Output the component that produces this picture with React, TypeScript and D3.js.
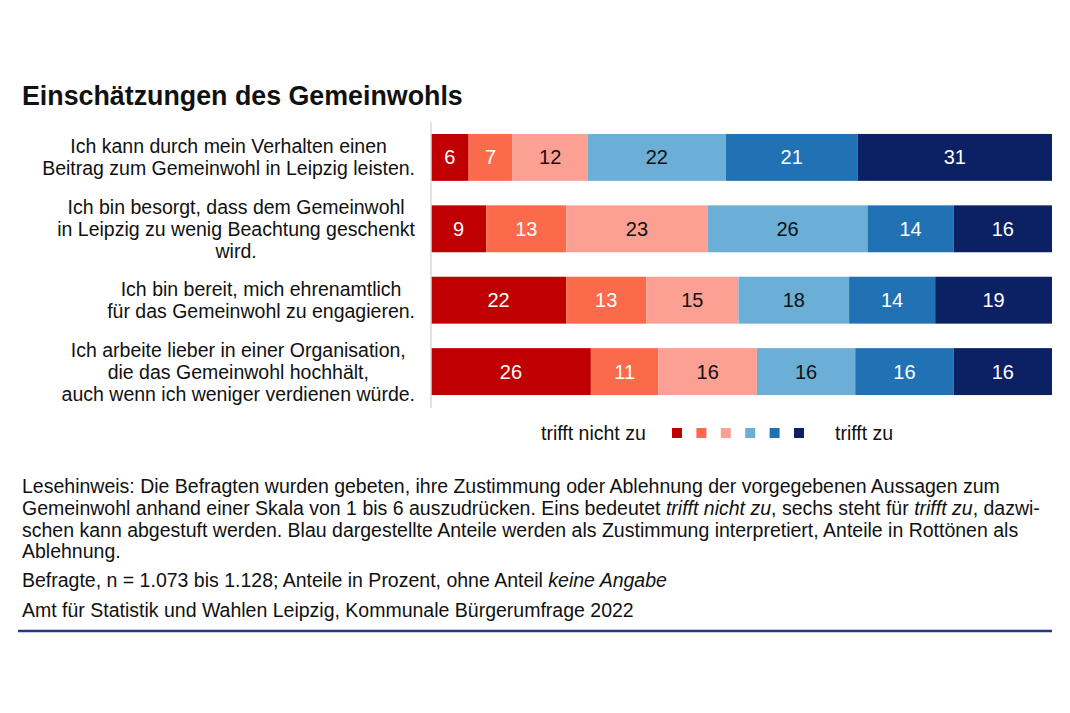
import React from 'react';
import * as d3 from 'd3';

const categories = [
  'Ich kann durch mein Verhalten einen|Beitrag zum Gemeinwohl in Leipzig leisten.',
  'Ich bin besorgt, dass dem Gemeinwohl|in Leipzig zu wenig Beachtung geschenkt|wird.',
  'Ich bin bereit, mich ehrenamtlich|für das Gemeinwohl zu engagieren.',
  'Ich arbeite lieber in einer Organisation,|die das Gemeinwohl hochhält,|auch wenn ich weniger verdienen würde.',
];

const levels = ['1', '2', '3', '4', '5', '6'];

const values = [
  [6, 7, 12, 22, 21, 31],
  [9, 13, 23, 26, 14, 16],
  [22, 13, 15, 18, 14, 19],
  [26, 11, 16, 16, 16, 16],
];

const colors = ['#c00000', '#fb6a4a', '#fca093', '#6baed6', '#2171b5', '#0b2164'];
const textColors = ['#fff', '#fff', '#111', '#111', '#fff', '#fff'];

const title = 'Einschätzungen des Gemeinwohls';
const legendLeft = 'trifft nicht zu';
const legendRight = 'trifft zu';

const FONT = '"Liberation Sans", Arial, sans-serif';
const FS = 19.5;

// measure label widths so each block can be centred with its longest line ending at the axis
const measureCtx = document.createElement('canvas').getContext('2d');
function textWidth(s: string) {
  if (!measureCtx) return s.length * 9;
  measureCtx.font = `${FS}px ${FONT}`;
  return measureCtx.measureText(s).width;
}

export default function App() {
  const width = 1070;
  const height = 713;

  const y = d3
    .scaleBand<number>()
    .domain(d3.range(categories.length))
    .range([121.75, 407.25])
    .paddingInner(0.343)
    .paddingOuter(0.171);

  const x = d3.scaleLinear().domain([0, 1]).range([431, 1052]);

  const rows = values.map((row) => {
    const total = d3.sum(row);
    const stack = d3.cumsum(row).map((c) => c / total);
    return row.map((v, i) => ({
      v,
      i,
      x0: i === 0 ? 0 : stack[i - 1],
      x1: stack[i],
    }));
  });

  const legendX = d3.scalePoint<string>().domain(levels).range([677, 799]);

  return (
    <svg
      width={width}
      height={height}
      style={{ position: 'absolute', left: 0, top: 0, background: '#fff' }}
      fontFamily={FONT}
    >
      <text x={22} y={105} fontSize={26.8} fontWeight="bold" fill="#111">
        {title}
      </text>

      {/* category labels */}
      {categories.map((c, ci) => {
        const lines = c.split('|');
        const mid = (y(ci) ?? 0) + y.bandwidth() / 2;
        const lh = 22;
        const top = mid - ((lines.length - 1) * lh) / 2;
        const maxW = d3.max(lines, textWidth) ?? 0;
        const cx = 415 - maxW / 2;
        return (
          <text key={ci} textAnchor="middle" fontSize={FS} fill="#111">
            {lines.map((l, li) => (
              <tspan key={li} x={cx} y={top + li * lh + 7}>
                {l}
              </tspan>
            ))}
          </text>
        );
      })}

      {/* bars */}
      {rows.map((row, ri) => (
        <g key={ri} transform={`translate(0,${y(ri)})`}>
          {row.map((s) => (
            <g key={s.i}>
              <rect
                x={x(s.x0)}
                y={0}
                width={x(s.x1) - x(s.x0)}
                height={y.bandwidth()}
                fill={colors[s.i]}
              />
              <text
                x={(x(s.x0) + x(s.x1)) / 2}
                y={y.bandwidth() / 2 + 7}
                textAnchor="middle"
                fontSize={20}
                fill={textColors[s.i]}
              >
                {s.v}
              </text>
            </g>
          ))}
        </g>
      ))}

      <line x1={431} x2={431} y1={122} y2={408} stroke="#d9d9d9" strokeWidth={1.5} />

      {/* legend */}
      <text x={541} y={440} fontSize={FS} fill="#111">
        {legendLeft}
      </text>
      {levels.map((l, i) => (
        <rect key={l} x={(legendX(l) ?? 0) - 5} y={428} width={10} height={10} fill={colors[i]} />
      ))}
      <text x={835} y={440} fontSize={FS} fill="#111">
        {legendRight}
      </text>

      {/* notes */}
      <g fontSize={FS} fill="#111">
        <text x={22} y={493}>
          Lesehinweis: Die Befragten wurden gebeten, ihre Zustimmung oder Ablehnung der vorgegebenen Aussagen zum
        </text>
        <text x={22} y={515}>
          Gemeinwohl anhand einer Skala von 1 bis 6 auszudrücken. Eins bedeutet{' '}
          <tspan fontStyle="italic">trifft nicht zu</tspan>, sechs steht für{' '}
          <tspan fontStyle="italic">trifft zu</tspan>, dazwi-
        </text>
        <text x={22} y={537}>
          schen kann abgestuft werden. Blau dargestellte Anteile werden als Zustimmung interpretiert, Anteile in Rottönen als
        </text>
        <text x={22} y={558}>
          Ablehnung.
        </text>
        <text x={22} y={587}>
          Befragte, n = 1.073 bis 1.128; Anteile in Prozent, ohne Anteil{' '}
          <tspan fontStyle="italic">keine Angabe</tspan>
        </text>
        <text x={22} y={617}>
          Amt für Statistik und Wahlen Leipzig, Kommunale Bürgerumfrage 2022
        </text>
      </g>
      <line x1={18} x2={1052} y1={631} y2={631} stroke="#1f3a8a" strokeWidth={2.5} />
    </svg>
  );
}
